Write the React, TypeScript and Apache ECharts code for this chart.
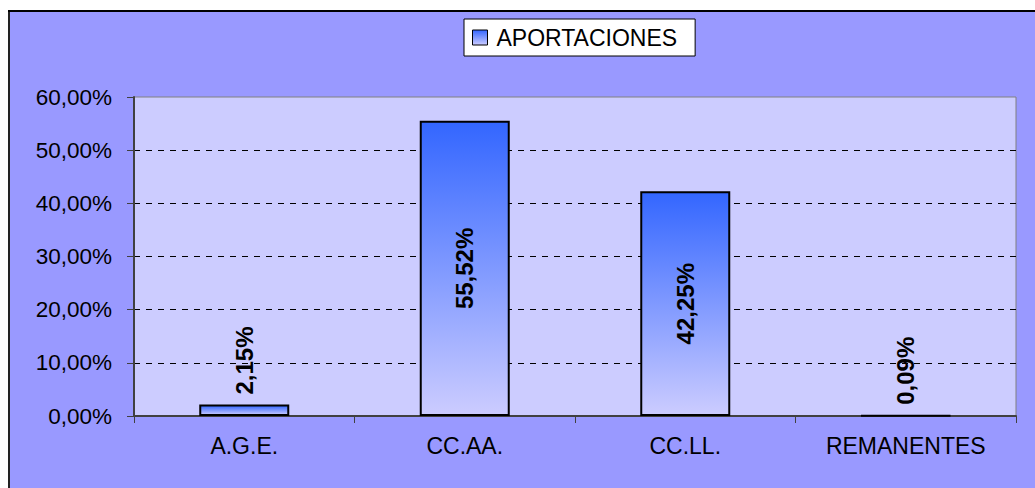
import React, { useEffect, useRef } from "react";
import * as echarts from "echarts";

const categories = ["A.G.E.", "CC.AA.", "CC.LL.", "REMANENTES"];
const values = [2.15, 55.52, 42.25, 0.09];
const seriesName = "APORTACIONES";
const yMin = 0;
const yMax = 60;
const yInterval = 10;

const fmt = (v: number) => v.toFixed(2).replace(".", ",") + "%";

export default function App() {
  const ref = useRef<HTMLDivElement>(null);
  useEffect(() => {
    if (!ref.current) return;
    const chart = echarts.init(ref.current, undefined, { renderer: "svg" });
    const font = "'Liberation Sans', Arial, sans-serif";
    const grad = new echarts.graphic.LinearGradient(0, 0, 0, 1, [
      { offset: 0, color: "#3366ff" },
      { offset: 1, color: "#ccccff" },
    ]);
    const data = values.map((v) => ({
      value: v,
      label:
        v < 8
          ? {
              position: "top" as const,
              align: "left" as const,
              verticalAlign: "middle" as const,
              distance: 10,
            }
          : {
              position: "inside" as const,
              align: "center" as const,
              verticalAlign: "middle" as const,
            },
    }));
    chart.setOption({
      animation: false,
      backgroundColor: "#9999ff",
      textStyle: { fontFamily: font },
      graphic: [
        { type: "line", shape: { x1: 1, y1: 0, x2: 1, y2: 478 }, style: { stroke: "#222", lineWidth: 2 } },
        { type: "line", shape: { x1: 0, y1: 1, x2: 1027, y2: 1 }, style: { stroke: "#000", lineWidth: 2 } },
      ],
      legend: {
        data: [{ name: seriesName, icon: "rect" }],
        left: 456,
        top: 9,
        padding: [7, 18, 7, 8],
        backgroundColor: "#ffffff",
        borderColor: "#000000",
        borderWidth: 1,
        itemWidth: 15,
        itemHeight: 15,
        itemGap: 0,
        itemStyle: { borderColor: "#000", borderWidth: 1 },
        textStyle: { fontSize: 23, color: "#000", fontFamily: font, padding: [0, 0, 0, 4] },
      },
      grid: {
        left: 126,
        top: 87,
        right: 19,
        bottom: 72,
        show: true,
        backgroundColor: "#ccccff",
        borderColor: "#808080",
        borderWidth: 1,
      },
      xAxis: {
        type: "category",
        data: categories,
        axisLine: { lineStyle: { color: "#404040", width: 2 } },
        axisTick: { show: true, length: 7, alignWithLabel: false, lineStyle: { color: "#404040" } },
        axisLabel: { fontSize: 23, color: "#000", margin: 18, fontFamily: font },
      },
      yAxis: {
        type: "value",
        min: yMin,
        max: yMax,
        interval: yInterval,
        axisLine: { show: true, lineStyle: { color: "#404040", width: 2 } },
        axisTick: { show: true, length: 7, lineStyle: { color: "#404040" } },
        axisLabel: {
          fontSize: 22.5,
          color: "#000",
          margin: 22,
          fontFamily: font,
          formatter: (v: number) => fmt(v),
        },
        splitLine: {
          show: true,
          showMinLine: false,
          showMaxLine: false,
          lineStyle: { color: "#000", type: [6, 6], width: 1 },
        },
      },
      series: [
        {
          name: seriesName,
          type: "bar",
          data,
          barWidth: 90,
          itemStyle: { color: grad, borderColor: "#000", borderWidth: 2 },
          label: {
            show: true,
            rotate: 90,
            fontSize: 24,
            fontWeight: "bold",
            color: "#000",
            fontFamily: font,
            formatter: (p: any) => fmt(p.value),
          },
        },
      ],
    });
    return () => chart.dispose();
  }, []);
  return (
    <div
      ref={ref}
      style={{ position: "fixed", left: 8, top: 10, width: 1027, height: 478 }}
    />
  );
}
